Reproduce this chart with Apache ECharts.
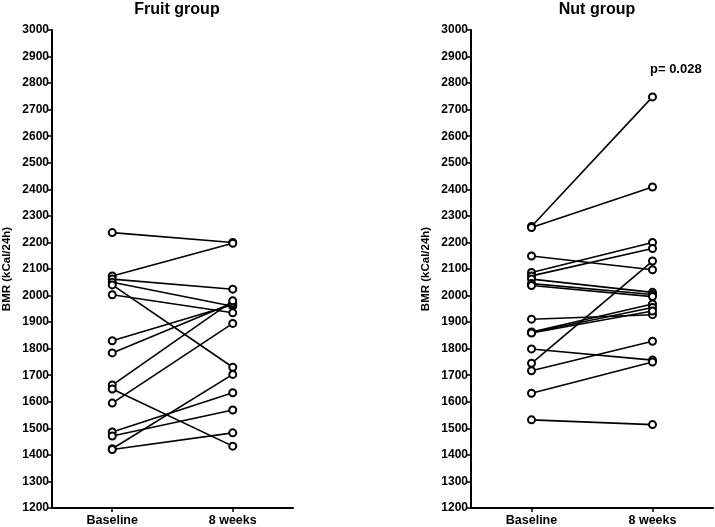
<!DOCTYPE html>
<html><head><meta charset="utf-8">
<script src="https://cdn.jsdelivr.net/npm/echarts@6/dist/echarts.min.js"></script>
<style>html,body{margin:0;padding:0;background:#fff}#c{width:715px;height:527px}</style>
</head><body><div id="c"></div>
<script>
var categories = ['Baseline', '8 weeks'];
var fruitBaseline = [2237, 2074, 2062, 2050, 2040, 2003, 1830, 1784, 1663, 1648, 1595, 1486, 1471, 1423, 1420];
var fruitWeek8    = [2200, 2197, 2024, 1960, 1730, 1935, 1965, 1972, 1980, 1433, 1895, 1634, 1569, 1703, 1483];
var nutBaseline = [2260, 2256, 2149, 2087, 2074, 2062, 2045, 2038, 1911, 1863, 1861, 1859, 1799, 1745, 1717, 1632, 1532];
var nutWeek8    = [2748, 2409, 2097, 2200, 2177, 2012, 2004, 1996, 1928, 1968, 1955, 1942, 1757, 2130, 1828, 1750, 1514];
var yTicks = {min: 1200, max: 3000, interval: 100};
var titles = ['Fruit group', 'Nut group'];
var yName = 'BMR (kCal/24h)';
var pText = 'p= 0.028';

var font = 'Liberation Sans, Arial, sans-serif';
function yAxis(i){
  return {type:'value', gridIndex:i, min:yTicks.min, max:yTicks.max, interval:yTicks.interval,
    name:yName, nameLocation:'middle', nameRotate:90, nameGap:39,
    nameTextStyle:{fontFamily:font, fontWeight:'bold', fontSize:11.5, color:'#000'},
    axisLine:{show:true, lineStyle:{color:'#000', width:2}},
    axisTick:{show:true, length:4, lineStyle:{color:'#000', width:1.5}},
    axisLabel:{fontFamily:font, fontWeight:'bold', fontSize:12, color:'#000', margin:3,
      formatter:function(v){return String(v);}},
    splitLine:{show:false}};
}
function xAxis(i){
  return {type:'category', gridIndex:i, data:categories, boundaryGap:true,
    axisLine:{show:true, lineStyle:{color:'#000', width:2}},
    axisTick:{show:true, alignWithLabel:true, length:4, lineStyle:{color:'#000', width:1.5}},
    axisLabel:{fontFamily:font, fontWeight:'bold', fontSize:12.5, color:'#000', margin:6}};
}
var series = [];
function addGroup(b, w, gi){
  for (var k = 0; k < b.length; k++){
    series.push({type:'line', xAxisIndex:gi, yAxisIndex:gi, data:[b[k], w[k]],
      symbol:'emptyCircle', symbolSize:7, animation:false, silent:true,
      lineStyle:{color:'#000', width:1.6},
      itemStyle:{color:'#000', borderColor:'#000', borderWidth:1.5}});
  }
}
addGroup(fruitBaseline, fruitWeek8, 0);
addGroup(nutBaseline, nutWeek8, 1);

var chart = echarts.init(document.getElementById('c'), null, {renderer:'canvas'});
chart.setOption({
  backgroundColor:'#fff',
  animation:false,
  title:[
    {text:titles[0], left:172, top:-3, textAlign:'center', textStyle:{fontFamily:font, fontWeight:'bold', fontSize:16, color:'#000'}},
    {text:titles[1], left:592, top:-3, textAlign:'center', textStyle:{fontFamily:font, fontWeight:'bold', fontSize:16, color:'#000'}},
    {text:pText, left:645, top:58, textStyle:{fontFamily:font, fontWeight:'bold', fontSize:13, color:'#000'}}
  ],
  grid:[
    {left:51, top:30, width:242, height:479},
    {left:471, top:30, width:242, height:479}
  ],
  xAxis:[xAxis(0), xAxis(1)],
  yAxis:[yAxis(0), yAxis(1)],
  series:series
});
</script></body></html>
